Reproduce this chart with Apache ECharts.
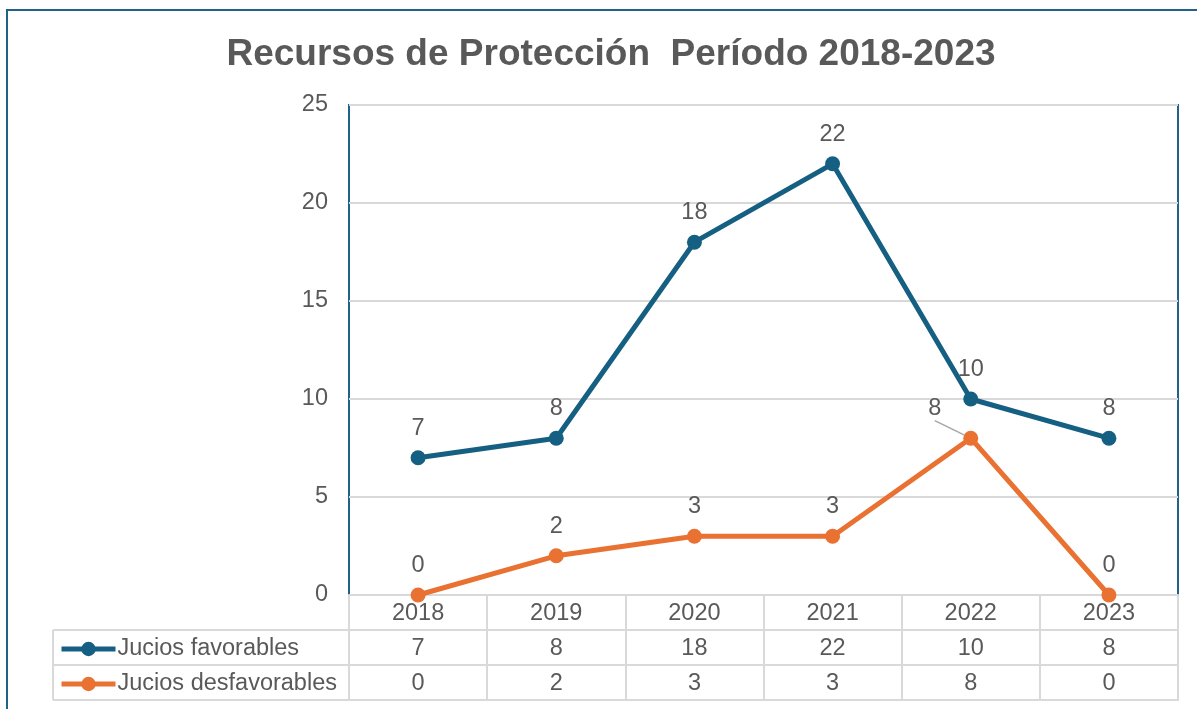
<!DOCTYPE html>
<html>
<head>
<meta charset="utf-8">
<script src="https://cdn.jsdelivr.net/npm/echarts@6/dist/echarts.min.js"></script>
<style>
  html, body { margin: 0; padding: 0; background: #fff; }
  #chart { width: 1197px; height: 709px; }
</style>
</head>
<body>
<div id="chart"></div>
<script>
var years = ['2018', '2019', '2020', '2021', '2022', '2023'];
var favorables = [7, 8, 18, 22, 10, 8];
var desfavorables = [0, 2, 3, 3, 8, 0];
var seriesNames = ['Jucios favorables', 'Jucios desfavorables'];
var yTicks = [0, 5, 10, 15, 20, 25];

var BLUE = '#156082';
var ORANGE = '#E97132';
var GRID_GRAY = '#d9d9d9';
var TEXT = '#595959';
var FONT = 'Liberation Sans, Arial, sans-serif';
var FS = 23.5;

var gLeft = 349, gTop = 105, gWidth = 829, gHeight = 490;
var gBottom = gTop + gHeight;
var rowH = 35;
var colW = gWidth / years.length;

var chart = echarts.init(document.getElementById('chart'));

// data table below the plot
var graphics = [];
graphics.push({
    type: 'rect', silent: true, z: 0,
    shape: { x: 7, y: 10, width: 1220, height: 720 },
    style: { fill: 'none', stroke: '#1f6488', lineWidth: 2 }
});
[gBottom + rowH, gBottom + 2 * rowH, gBottom + 3 * rowH].forEach(function(y) {
    graphics.push({
        type: 'line', silent: true, z: 5,
        shape: { x1: 53, y1: y, x2: gLeft + gWidth, y2: y },
        style: { stroke: GRID_GRAY, lineWidth: 2 }
    });
});
graphics.push({
    type: 'line', silent: true, z: 5,
    shape: { x1: 53, y1: gBottom + rowH, x2: 53, y2: gBottom + 3 * rowH },
    style: { stroke: GRID_GRAY, lineWidth: 2 }
});
[favorables, desfavorables].forEach(function(vals, r) {
    vals.forEach(function(v, i) {
        graphics.push({
            type: 'text', silent: true, z: 6,
            x: gLeft + colW * (i + 0.5),
            y: gBottom + rowH * (r + 1.5) + 1,
            style: {
                text: String(v), fill: TEXT, font: FS + 'px ' + FONT,
                align: 'center', verticalAlign: 'middle'
            }
        });
    });
});

function lineSeries(name, data, color, moved) {
    return {
        name: name,
        type: 'line',
        data: data.map(function(v, i) {
            if (moved === i) {
                return { value: v, labelLine: { show: true, lineStyle: { color: '#a6a6a6', width: 1.5 } } };
            }
            return v;
        }),
        symbol: 'circle',
        symbolSize: 15,
        lineStyle: { color: color, width: 5 },
        itemStyle: { color: color },
        label: {
            show: true, position: 'top', distance: 10,
            color: TEXT, fontSize: FS, fontFamily: FONT
        },
        z: 10
    };
}

chart.setOption({
    backgroundColor: '#fff',
    animation: false,
    title: {
        text: 'Recursos de Protección  Período 2018-2023',
        left: 606, top: 31, textAlign: 'center',
        textStyle: { color: TEXT, fontSize: 37, fontWeight: 'bold', fontFamily: FONT }
    },
    legend: {
        orient: 'vertical',
        left: 54, top: gBottom + rowH + 1,
        itemWidth: 54, itemHeight: 18, itemGap: 9,
        lineStyle: { width: 5 },
        textStyle: { color: TEXT, fontSize: FS, fontFamily: FONT, padding: [0, 0, 0, -3], lineHeight: 26 },
        data: seriesNames
    },
    grid: {
        left: gLeft, top: gTop, width: gWidth, height: gHeight,
        show: true, borderColor: '#1f6488', borderWidth: 2, backgroundColor: 'transparent'
    },
    xAxis: {
        type: 'category',
        data: years,
        boundaryGap: true,
        axisLine: { show: true, lineStyle: { color: GRID_GRAY, width: 2 } },
        axisTick: { show: true, length: 3 * rowH + 1, lineStyle: { color: GRID_GRAY, width: 2 } },
        axisLabel: { color: TEXT, fontSize: FS, fontFamily: FONT, margin: 7 },
        splitLine: { show: false }
    },
    yAxis: {
        type: 'value',
        min: yTicks[0], max: yTicks[yTicks.length - 1], interval: yTicks[1] - yTicks[0],
        axisLine: { show: false },
        axisTick: { show: false },
        axisLabel: { color: TEXT, fontSize: FS, fontFamily: FONT, margin: 21 },
        splitLine: { lineStyle: { color: GRID_GRAY, width: 2 } }
    },
    labelLayout: function(params) {
        if (params.seriesIndex === 1 && params.dataIndex === 4) {
            return { dx: -36, dy: 0 };
        }
    },
    graphic: graphics,
    series: [
        lineSeries(seriesNames[0], favorables, BLUE, -1),
        lineSeries(seriesNames[1], desfavorables, ORANGE, 4)
    ]
});
</script>
</body>
</html>
